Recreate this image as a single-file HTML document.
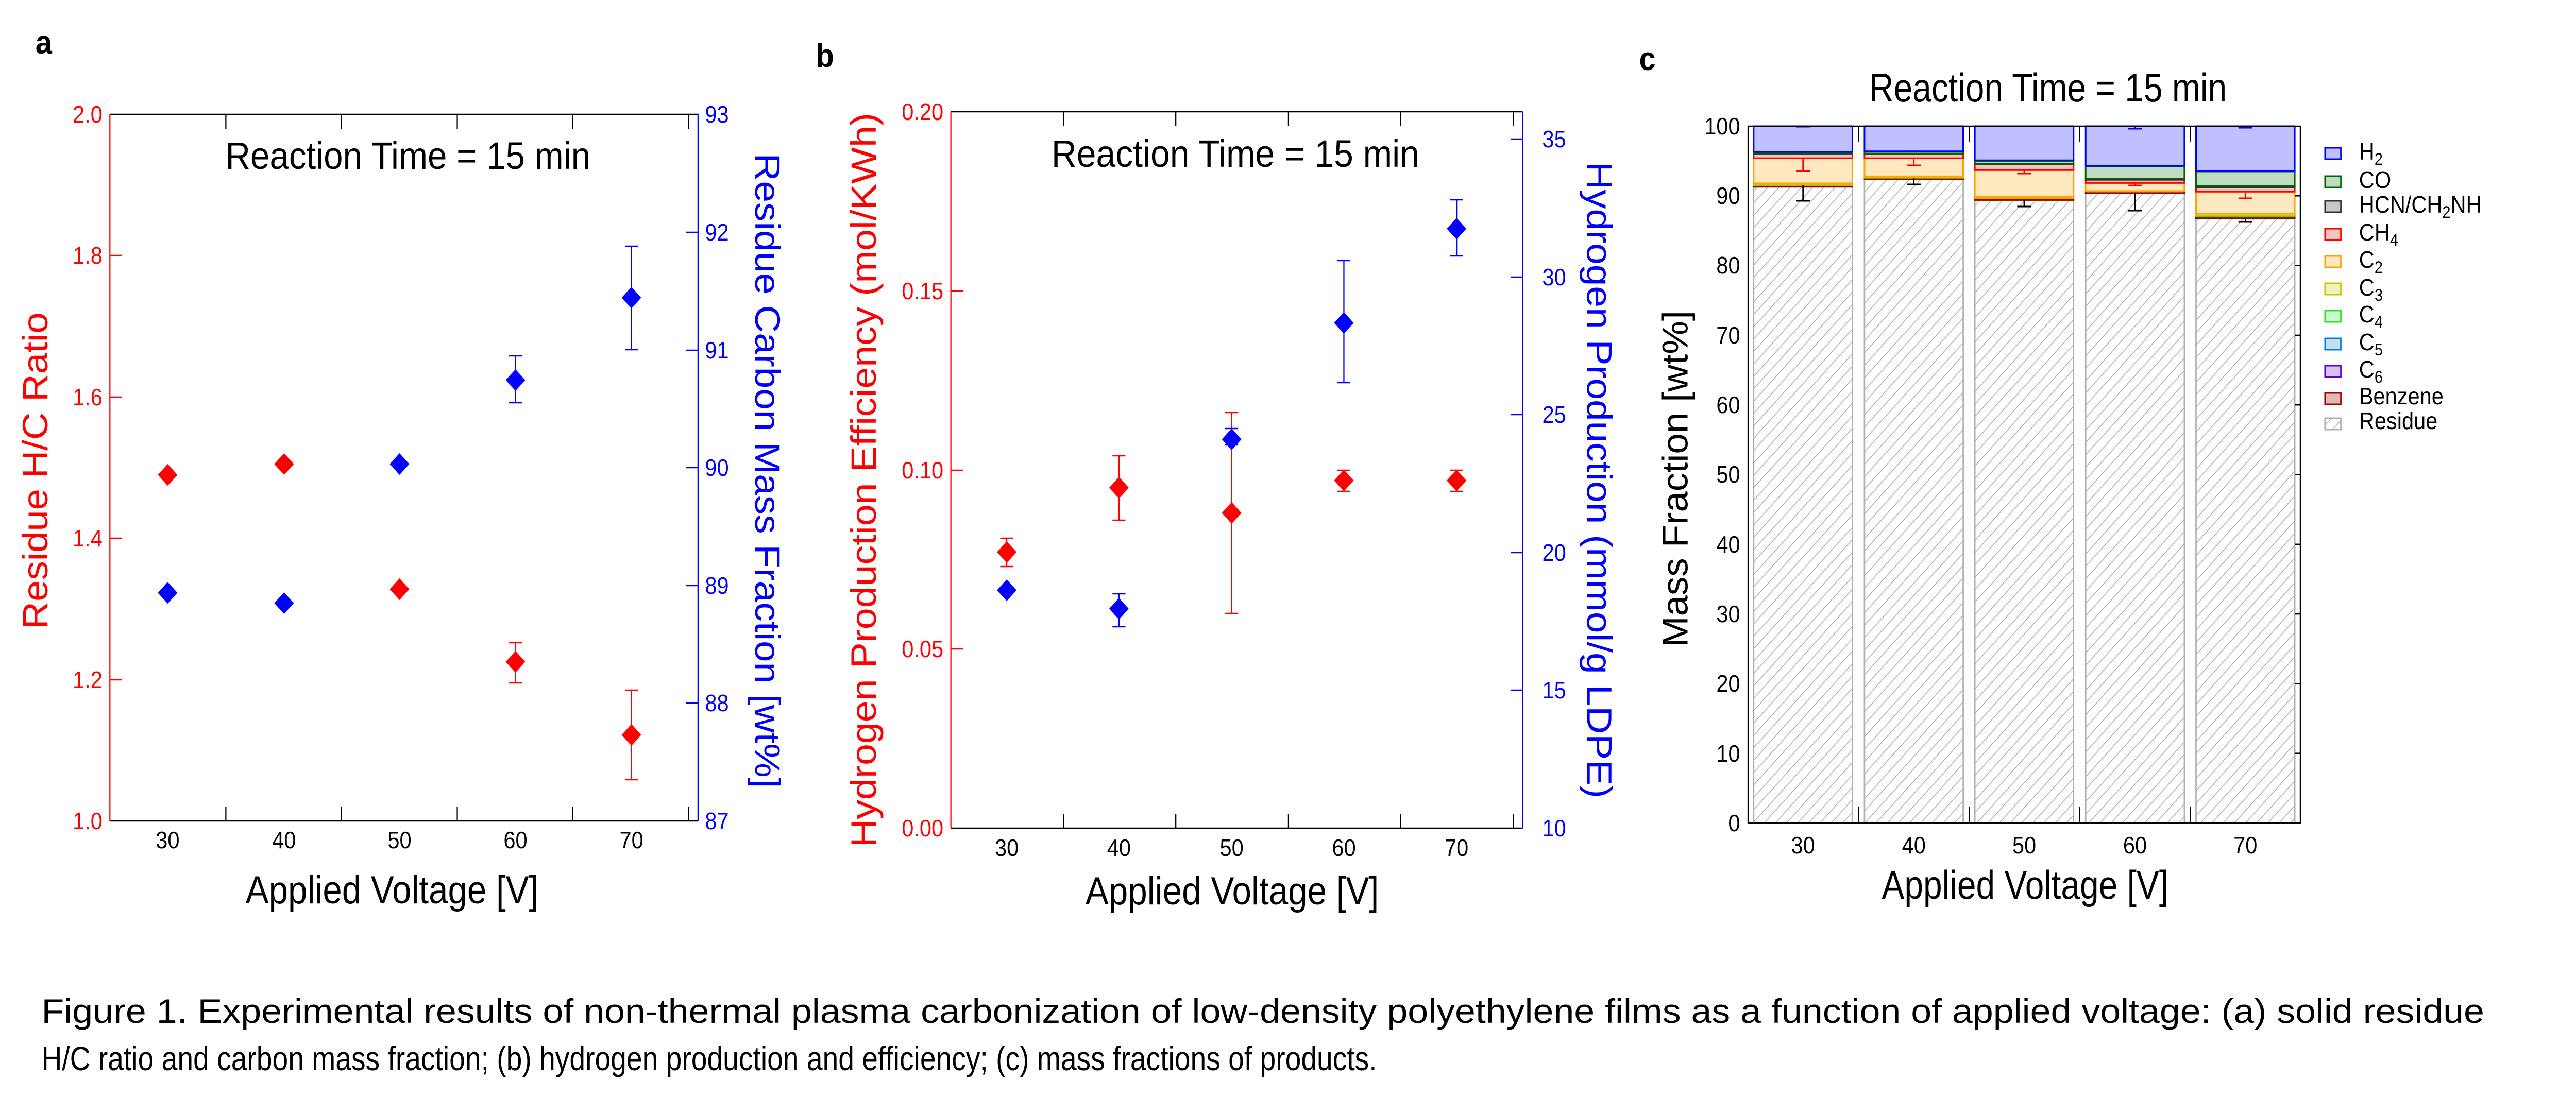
<!DOCTYPE html>
<html><head><meta charset="utf-8"><style>
html,body{margin:0;padding:0;background:#fff;overflow:hidden}
svg{display:block;width:100vw;height:100vh}
text{font-family:"Liberation Sans",Arial,sans-serif}
</style></head><body>
<svg viewBox="0 0 5532 2163" preserveAspectRatio="none" xmlns="http://www.w3.org/2000/svg" overflow="hidden">
<defs>
<pattern id="hatch" patternUnits="userSpaceOnUse" width="17" height="17" patternTransform="rotate(45)">
<rect width="17" height="17" fill="#fff"/>
<line x1="0" y1="0" x2="0" y2="17" stroke="#a8a8a8" stroke-width="3"/>
</pattern>
<path id="dm" d="M0,-21 L21,0 L0,21 L-21,0 Z"/>
</defs>
<rect width="5532" height="2163" fill="#fff"/>

<!-- ========== Panel a ========== -->
<text x="76" y="104" font-size="64" font-weight="bold">a</text>
<g stroke-width="2.5" fill="none">
<line x1="236" y1="222" x2="1499" y2="222" stroke="#000"/>
<line x1="236" y1="1594" x2="1499" y2="1594" stroke="#000"/>
<line x1="236" y1="222" x2="236" y2="1594" stroke="#f00"/>
<line x1="1499" y1="222" x2="1499" y2="1594" stroke="#00f"/>
</g>
<g stroke="#000" stroke-width="2.5">
<line x1="485" y1="222" x2="485" y2="250"/><line x1="733" y1="222" x2="733" y2="250"/><line x1="982" y1="222" x2="982" y2="250"/><line x1="1230" y1="222" x2="1230" y2="250"/><line x1="1479" y1="222" x2="1479" y2="250"/>
<line x1="485" y1="1594" x2="485" y2="1566"/><line x1="733" y1="1594" x2="733" y2="1566"/><line x1="982" y1="1594" x2="982" y2="1566"/><line x1="1230" y1="1594" x2="1230" y2="1566"/><line x1="1479" y1="1594" x2="1479" y2="1566"/>
</g>
<g stroke="#f00" stroke-width="2.5">
<line x1="236" y1="496" x2="262" y2="496"/><line x1="236" y1="771" x2="262" y2="771"/><line x1="236" y1="1045" x2="262" y2="1045"/><line x1="236" y1="1320" x2="262" y2="1320"/>
</g>
<g stroke="#00f" stroke-width="2.5">
<line x1="1473" y1="451" x2="1499" y2="451"/><line x1="1473" y1="680" x2="1499" y2="680"/><line x1="1473" y1="908" x2="1499" y2="908"/><line x1="1473" y1="1137" x2="1499" y2="1137"/><line x1="1473" y1="1365" x2="1499" y2="1365"/>
</g>
<g font-size="46" fill="#f00" text-anchor="end">
<text x="220" y="238">2.0</text><text x="220" y="512">1.8</text><text x="220" y="787">1.6</text><text x="220" y="1061">1.4</text><text x="220" y="1336">1.2</text><text x="220" y="1610">1.0</text>
</g>
<g font-size="46" fill="#00f">
<text x="1514" y="238">93</text><text x="1514" y="467">92</text><text x="1514" y="696">91</text><text x="1514" y="924">90</text><text x="1514" y="1153">89</text><text x="1514" y="1381">88</text><text x="1514" y="1610">87</text>
</g>
<g font-size="46" text-anchor="middle">
<text x="360" y="1647">30</text><text x="610" y="1647">40</text><text x="858" y="1647">50</text><text x="1107" y="1647">60</text><text x="1356" y="1647">70</text>
</g>
<text x="842" y="1754" font-size="76" text-anchor="middle" textLength="629" lengthAdjust="spacingAndGlyphs">Applied Voltage [V]</text>
<text x="876" y="328" font-size="74" text-anchor="middle" textLength="784" lengthAdjust="spacingAndGlyphs">Reaction Time = 15 min</text>
<text transform="translate(102,914) rotate(-90)" font-size="76" fill="#f00" text-anchor="middle" textLength="615" lengthAdjust="spacingAndGlyphs">Residue H/C Ratio</text>
<text transform="translate(1622,914) rotate(90)" font-size="76" fill="#00f" text-anchor="middle" textLength="1233" lengthAdjust="spacingAndGlyphs">Residue Carbon Mass Fraction [wt%]</text>
<g stroke="#f00" stroke-width="2.5">
<line x1="1107" y1="1248" x2="1107" y2="1326"/><line x1="1093" y1="1248" x2="1121" y2="1248"/><line x1="1093" y1="1326" x2="1121" y2="1326"/>
<line x1="1356" y1="1340" x2="1356" y2="1514"/><line x1="1342" y1="1340" x2="1370" y2="1340"/><line x1="1342" y1="1514" x2="1370" y2="1514"/>
</g>
<g stroke="#00f" stroke-width="2.5">
<line x1="1107" y1="691" x2="1107" y2="782"/><line x1="1093" y1="691" x2="1121" y2="691"/><line x1="1093" y1="782" x2="1121" y2="782"/>
<line x1="1356" y1="478" x2="1356" y2="679"/><line x1="1342" y1="478" x2="1370" y2="478"/><line x1="1342" y1="679" x2="1370" y2="679"/>
</g>
<g fill="#f00">
<use href="#dm" x="360" y="922"/><use href="#dm" x="610" y="901"/><use href="#dm" x="858" y="1144"/><use href="#dm" x="1107" y="1285"/><use href="#dm" x="1356" y="1427"/>
</g>
<g fill="#00f">
<use href="#dm" x="360" y="1151"/><use href="#dm" x="610" y="1171"/><use href="#dm" x="858" y="901"/><use href="#dm" x="1107" y="738"/><use href="#dm" x="1356" y="578"/>
</g>

<!-- ========== Panel b ========== -->
<text x="1752" y="130" font-size="64" font-weight="bold">b</text>
<g stroke-width="2.5" fill="none">
<line x1="2042" y1="217" x2="3270" y2="217" stroke="#000"/>
<line x1="2042" y1="1608" x2="3270" y2="1608" stroke="#000"/>
<line x1="2042" y1="217" x2="2042" y2="1608" stroke="#f00"/>
<line x1="3270" y1="217" x2="3270" y2="1608" stroke="#00f"/>
</g>
<g stroke="#000" stroke-width="2.5">
<line x1="2284" y1="217" x2="2284" y2="245"/><line x1="2525" y1="217" x2="2525" y2="245"/><line x1="2767" y1="217" x2="2767" y2="245"/><line x1="3008" y1="217" x2="3008" y2="245"/><line x1="3250" y1="217" x2="3250" y2="245"/>
<line x1="2284" y1="1608" x2="2284" y2="1580"/><line x1="2525" y1="1608" x2="2525" y2="1580"/><line x1="2767" y1="1608" x2="2767" y2="1580"/><line x1="3008" y1="1608" x2="3008" y2="1580"/><line x1="3250" y1="1608" x2="3250" y2="1580"/>
</g>
<g stroke="#f00" stroke-width="2.5">
<line x1="2042" y1="565" x2="2068" y2="565"/><line x1="2042" y1="913" x2="2068" y2="913"/><line x1="2042" y1="1260" x2="2068" y2="1260"/>
</g>
<g stroke="#00f" stroke-width="2.5">
<line x1="3244" y1="270" x2="3270" y2="270"/><line x1="3244" y1="538" x2="3270" y2="538"/><line x1="3244" y1="805" x2="3270" y2="805"/><line x1="3244" y1="1073" x2="3270" y2="1073"/><line x1="3244" y1="1340" x2="3270" y2="1340"/>
</g>
<g font-size="46" fill="#f00" text-anchor="end">
<text x="2026" y="233">0.20</text><text x="2026" y="581">0.15</text><text x="2026" y="929">0.10</text><text x="2026" y="1276">0.05</text><text x="2026" y="1624">0.00</text>
</g>
<g font-size="46" fill="#00f">
<text x="3312" y="286">35</text><text x="3312" y="554">30</text><text x="3312" y="821">25</text><text x="3312" y="1089">20</text><text x="3312" y="1356">15</text><text x="3312" y="1624">10</text>
</g>
<g font-size="46" text-anchor="middle">
<text x="2162" y="1662">30</text><text x="2403" y="1662">40</text><text x="2645" y="1662">50</text><text x="2886" y="1662">60</text><text x="3128" y="1662">70</text>
</g>
<text x="2646" y="1756" font-size="76" text-anchor="middle" textLength="630" lengthAdjust="spacingAndGlyphs">Applied Voltage [V]</text>
<text x="2653" y="324" font-size="74" text-anchor="middle" textLength="790" lengthAdjust="spacingAndGlyphs">Reaction Time = 15 min</text>
<text transform="translate(1881,932) rotate(-90)" font-size="76" fill="#f00" text-anchor="middle" textLength="1426" lengthAdjust="spacingAndGlyphs">Hydrogen Production Efficiency (mol/KWh)</text>
<text transform="translate(3408,932) rotate(90)" font-size="76" fill="#00f" text-anchor="middle" textLength="1236" lengthAdjust="spacingAndGlyphs">Hydrogen Production (mmol/g LDPE)</text>
<g stroke="#f00" stroke-width="2.5">
<line x1="2162" y1="1045" x2="2162" y2="1100"/><line x1="2148" y1="1045" x2="2176" y2="1045"/><line x1="2148" y1="1100" x2="2176" y2="1100"/>
<line x1="2403" y1="885" x2="2403" y2="1010"/><line x1="2389" y1="885" x2="2417" y2="885"/><line x1="2389" y1="1010" x2="2417" y2="1010"/>
<line x1="2645" y1="801" x2="2645" y2="1191"/><line x1="2631" y1="801" x2="2659" y2="801"/><line x1="2631" y1="1191" x2="2659" y2="1191"/>
<line x1="2886" y1="913" x2="2886" y2="954"/><line x1="2872" y1="913" x2="2900" y2="913"/><line x1="2872" y1="954" x2="2900" y2="954"/>
<line x1="3128" y1="913" x2="3128" y2="954"/><line x1="3114" y1="913" x2="3142" y2="913"/><line x1="3114" y1="954" x2="3142" y2="954"/>
</g>
<g stroke="#00f" stroke-width="2.5">
<line x1="2403" y1="1153" x2="2403" y2="1217"/><line x1="2389" y1="1153" x2="2417" y2="1153"/><line x1="2389" y1="1217" x2="2417" y2="1217"/>
<line x1="2645" y1="832" x2="2645" y2="864"/><line x1="2631" y1="832" x2="2659" y2="832"/><line x1="2631" y1="864" x2="2659" y2="864"/>
<line x1="2886" y1="506" x2="2886" y2="743"/><line x1="2872" y1="506" x2="2900" y2="506"/><line x1="2872" y1="743" x2="2900" y2="743"/>
<line x1="3128" y1="388" x2="3128" y2="497"/><line x1="3114" y1="388" x2="3142" y2="388"/><line x1="3114" y1="497" x2="3142" y2="497"/>
</g>
<g fill="#f00">
<use href="#dm" x="2162" y="1072"/><use href="#dm" x="2403" y="947"/><use href="#dm" x="2645" y="996"/><use href="#dm" x="2886" y="933"/><use href="#dm" x="3128" y="933"/>
</g>
<g fill="#00f">
<use href="#dm" x="2162" y="1146"/><use href="#dm" x="2403" y="1182"/><use href="#dm" x="2645" y="853"/><use href="#dm" x="2886" y="627"/><use href="#dm" x="3128" y="444"/>
</g>

<!-- ========== Panel c ========== -->
<text x="3520" y="136" font-size="64" font-weight="bold">c</text>
<text x="4398" y="197" font-size="78" text-anchor="middle" textLength="768" lengthAdjust="spacingAndGlyphs">Reaction Time = 15 min</text>

<g fill="url(#hatch)" stroke="#b0b0b0" stroke-width="3">
<rect x="3766" y="362.7" width="212" height="1235.3"/>
<rect x="4004" y="347.8" width="212" height="1250.2"/>
<rect x="4241" y="388.5" width="212" height="1209.5"/>
<rect x="4479" y="375" width="212" height="1223"/>
<rect x="4716" y="423.6" width="212" height="1174.4"/>
</g>
<g transform="translate(0,1598) scale(1,-13.53)" stroke-width="3">
<g transform="translate(3766,0)">
<rect x="0" y="91.3" width="212" height="0.15" fill="#e0b8b8" stroke="#a00000" vector-effect="non-scaling-stroke"/>
<rect x="0" y="91.45" width="212" height="0.1" fill="#d8c0f0" stroke="#6000d0" vector-effect="non-scaling-stroke"/>
<rect x="0" y="91.55" width="212" height="0.25" fill="#f0f0c0" stroke="#c8c800" vector-effect="non-scaling-stroke"/>
<rect x="0" y="91.8" width="212" height="3.6" fill="#fde8c0" stroke="#ffa500" vector-effect="non-scaling-stroke"/>
<rect x="0" y="95.4" width="212" height="0.6" fill="#ffc0c0" stroke="#f00" vector-effect="non-scaling-stroke"/>
<rect x="0" y="96.0" width="212" height="0.1" fill="#c8c8c8" stroke="#333" vector-effect="non-scaling-stroke"/>
<rect x="0" y="96.1" width="212" height="0.15" fill="#c0dcc0" stroke="#006400" vector-effect="non-scaling-stroke"/>
<rect x="0" y="96.3" width="212" height="3.7" fill="#c0c0ff" stroke="#00f" vector-effect="non-scaling-stroke"/>
</g>
<g transform="translate(4004,0)">
<rect x="0" y="92.4" width="212" height="0.2" fill="#e0b8b8" stroke="#a00000" vector-effect="non-scaling-stroke"/>
<rect x="0" y="92.6" width="212" height="0.2" fill="#f0f0c0" stroke="#c8c800" vector-effect="non-scaling-stroke"/>
<rect x="0" y="92.8" width="212" height="2.6" fill="#fde8c0" stroke="#ffa500" vector-effect="non-scaling-stroke"/>
<rect x="0" y="95.4" width="212" height="0.6" fill="#ffc0c0" stroke="#f00" vector-effect="non-scaling-stroke"/>
<rect x="0" y="96.0" width="212" height="0.3" fill="#c0dcc0" stroke="#006400" vector-effect="non-scaling-stroke"/>
<rect x="0" y="96.4" width="212" height="3.6" fill="#c0c0ff" stroke="#00f" vector-effect="non-scaling-stroke"/>
</g>
<g transform="translate(4241,0)">
<rect x="0" y="89.4" width="212" height="0.3" fill="#e0b8b8" stroke="#a00000" vector-effect="non-scaling-stroke"/>
<rect x="0" y="89.7" width="212" height="0.15" fill="#f0f0c0" stroke="#c8c800" vector-effect="non-scaling-stroke"/>
<rect x="0" y="89.85" width="212" height="3.85" fill="#fde8c0" stroke="#ffa500" vector-effect="non-scaling-stroke"/>
<rect x="0" y="93.7" width="212" height="0.8" fill="#ffc0c0" stroke="#f00" vector-effect="non-scaling-stroke"/>
<rect x="0" y="94.5" width="212" height="0.1" fill="#c8c8c8" stroke="#333" vector-effect="non-scaling-stroke"/>
<rect x="0" y="94.6" width="212" height="0.4" fill="#c0dcc0" stroke="#006400" vector-effect="non-scaling-stroke"/>
<rect x="0" y="95.1" width="212" height="4.9" fill="#c0c0ff" stroke="#00f" vector-effect="non-scaling-stroke"/>
</g>
<g transform="translate(4479,0)">
<rect x="0" y="90.4" width="212" height="0.25" fill="#e0b8b8" stroke="#a00000" vector-effect="non-scaling-stroke"/>
<rect x="0" y="90.7" width="212" height="1.1" fill="#fde8c0" stroke="#ffa500" vector-effect="non-scaling-stroke"/>
<rect x="0" y="91.85" width="212" height="0.45" fill="#ffc0c0" stroke="#f00" vector-effect="non-scaling-stroke"/>
<rect x="0" y="92.3" width="212" height="0.15" fill="#c8c8c8" stroke="#333" vector-effect="non-scaling-stroke"/>
<rect x="0" y="92.5" width="212" height="1.7" fill="#c0dcc0" stroke="#006400" vector-effect="non-scaling-stroke"/>
<rect x="0" y="94.3" width="212" height="5.7" fill="#c0c0ff" stroke="#00f" vector-effect="non-scaling-stroke"/>
</g>
<g transform="translate(4716,0)">
<rect x="0" y="86.8" width="212" height="0.3" fill="#e0b8b8" stroke="#a00000" vector-effect="non-scaling-stroke"/>
<rect x="0" y="87.1" width="212" height="0.1" fill="#c8ffc8" stroke="#30e030" vector-effect="non-scaling-stroke"/>
<rect x="0" y="87.2" width="212" height="0.25" fill="#f0f0c0" stroke="#c8c800" vector-effect="non-scaling-stroke"/>
<rect x="0" y="87.45" width="212" height="3.05" fill="#fde8c0" stroke="#ffa500" vector-effect="non-scaling-stroke"/>
<rect x="0" y="90.6" width="212" height="0.6" fill="#ffc0c0" stroke="#f00" vector-effect="non-scaling-stroke"/>
<rect x="0" y="91.2" width="212" height="0.15" fill="#c8c8c8" stroke="#333" vector-effect="non-scaling-stroke"/>
<rect x="0" y="91.4" width="212" height="2.1" fill="#c0dcc0" stroke="#006400" vector-effect="non-scaling-stroke"/>
<rect x="0" y="93.6" width="212" height="6.4" fill="#c0c0ff" stroke="#00f" vector-effect="non-scaling-stroke"/>
</g>
</g>
<g stroke="#f00" stroke-width="3">
<line x1="3872" y1="307" x2="3872" y2="332"/><line x1="3857" y1="332" x2="3887" y2="332"/>
<line x1="4110" y1="307" x2="4110" y2="321"/><line x1="4095" y1="321" x2="4125" y2="321"/>
<line x1="4347" y1="328" x2="4347" y2="337"/><line x1="4332" y1="337" x2="4362" y2="337"/>
<line x1="4585" y1="354" x2="4585" y2="360"/><line x1="4570" y1="360" x2="4600" y2="360"/>
<line x1="4822" y1="372" x2="4822" y2="385"/><line x1="4807" y1="385" x2="4837" y2="385"/>
</g>
<g stroke="#000" stroke-width="3">
<line x1="3872" y1="360" x2="3872" y2="390"/><line x1="3857" y1="390" x2="3887" y2="390"/>
<line x1="4110" y1="346" x2="4110" y2="358"/><line x1="4095" y1="358" x2="4125" y2="358"/>
<line x1="4347" y1="388" x2="4347" y2="401"/><line x1="4332" y1="401" x2="4362" y2="401"/>
<line x1="4585" y1="375" x2="4585" y2="409"/><line x1="4570" y1="409" x2="4600" y2="409"/>
<line x1="4822" y1="423" x2="4822" y2="431"/><line x1="4807" y1="431" x2="4837" y2="431"/>
</g>
<g stroke="#00f" stroke-width="3">
<line x1="3857" y1="246" x2="3887" y2="246"/>
<line x1="4585" y1="245" x2="4585" y2="250"/><line x1="4570" y1="250" x2="4600" y2="250"/>
<line x1="4807" y1="248" x2="4837" y2="248"/>
</g>
<rect x="3754" y="245" width="1186" height="1353" fill="none" stroke="#000" stroke-width="2.5"/>
<g stroke="#000" stroke-width="2.5">
<line x1="3991" y1="245" x2="3991" y2="276"/><line x1="4229" y1="245" x2="4229" y2="276"/><line x1="4466" y1="245" x2="4466" y2="276"/><line x1="4704" y1="245" x2="4704" y2="276"/>
<line x1="3991" y1="1598" x2="3991" y2="1567"/><line x1="4229" y1="1598" x2="4229" y2="1567"/><line x1="4466" y1="1598" x2="4466" y2="1567"/><line x1="4704" y1="1598" x2="4704" y2="1567"/>
<line x1="4928" y1="1462.7" x2="4940" y2="1462.7"/><line x1="4928" y1="1327.4" x2="4940" y2="1327.4"/><line x1="4928" y1="1192.1" x2="4940" y2="1192.1"/><line x1="4928" y1="1056.8" x2="4940" y2="1056.8"/><line x1="4928" y1="921.5" x2="4940" y2="921.5"/><line x1="4928" y1="786.2" x2="4940" y2="786.2"/><line x1="4928" y1="650.9" x2="4940" y2="650.9"/><line x1="4928" y1="515.6" x2="4940" y2="515.6"/><line x1="4928" y1="380.3" x2="4940" y2="380.3"/>
</g>
<g font-size="46" text-anchor="end">
<text x="3737" y="261">100</text><text x="3737" y="396">90</text><text x="3737" y="531">80</text><text x="3737" y="667">70</text><text x="3737" y="802">60</text><text x="3737" y="937">50</text><text x="3737" y="1073">40</text><text x="3737" y="1208">30</text><text x="3737" y="1343">20</text><text x="3737" y="1479">10</text><text x="3737" y="1614">0</text>
</g>
<g font-size="46" text-anchor="middle">
<text x="3872" y="1657">30</text><text x="4110" y="1657">40</text><text x="4347" y="1657">50</text><text x="4585" y="1657">60</text><text x="4822" y="1657">70</text>
</g>
<text x="4349" y="1745" font-size="78" text-anchor="middle" textLength="616" lengthAdjust="spacingAndGlyphs">Applied Voltage [V]</text>
<text transform="translate(3624,930) rotate(-90)" font-size="78" text-anchor="middle" textLength="654" lengthAdjust="spacingAndGlyphs">Mass Fraction [wt%]</text>
<g stroke-width="3">
<rect x="4993" y="287" width="34" height="22" fill="#c0c0ff" stroke="#00f"/>
<rect x="4993" y="342" width="34" height="22" fill="#c0dcc0" stroke="#006400"/>
<rect x="4993" y="390" width="34" height="22" fill="#c8c8c8" stroke="#333"/>
<rect x="4993" y="444" width="34" height="22" fill="#ffc0c0" stroke="#f00"/>
<rect x="4993" y="497" width="34" height="22" fill="#fde8c0" stroke="#ffa500"/>
<rect x="4993" y="550" width="34" height="22" fill="#f0f0c0" stroke="#c8c800"/>
<rect x="4993" y="603" width="34" height="22" fill="#c8ffc8" stroke="#30e030"/>
<rect x="4993" y="657" width="34" height="22" fill="#c0e0f0" stroke="#0080d0"/>
<rect x="4993" y="710" width="34" height="22" fill="#d8c0f0" stroke="#6000d0"/>
<rect x="4993" y="763" width="34" height="22" fill="#e0b8b8" stroke="#a00000"/>
<rect x="4993" y="812" width="34" height="22" fill="url(#hatch)" stroke="#b0b0b0"/>
</g>
<g font-size="46">
<text x="5066" y="310">H<tspan font-size="32" dy="10">2</tspan></text>
<text x="5066" y="365">CO</text>
<text x="5066" y="413">HCN/CH<tspan font-size="32" dy="10">2</tspan><tspan dy="-10">NH</tspan></text>
<text x="5066" y="467">CH<tspan font-size="32" dy="10">4</tspan></text>
<text x="5066" y="520">C<tspan font-size="32" dy="10">2</tspan></text>
<text x="5066" y="574">C<tspan font-size="32" dy="10">3</tspan></text>
<text x="5066" y="626">C<tspan font-size="32" dy="10">4</tspan></text>
<text x="5066" y="680">C<tspan font-size="32" dy="10">5</tspan></text>
<text x="5066" y="733">C<tspan font-size="32" dy="10">6</tspan></text>
<text x="5066" y="785">Benzene</text>
<text x="5066" y="833">Residue</text>
</g>

<text x="89" y="1986" font-size="66" textLength="5246" lengthAdjust="spacingAndGlyphs">Figure 1. Experimental results of non-thermal plasma carbonization of low-density polyethylene films as a function of applied voltage: (a) solid residue</text>
<text x="89" y="2078" font-size="66" textLength="2868" lengthAdjust="spacingAndGlyphs">H/C ratio and carbon mass fraction; (b) hydrogen production and efficiency; (c) mass fractions of products.</text>
</svg>
</body></html>
